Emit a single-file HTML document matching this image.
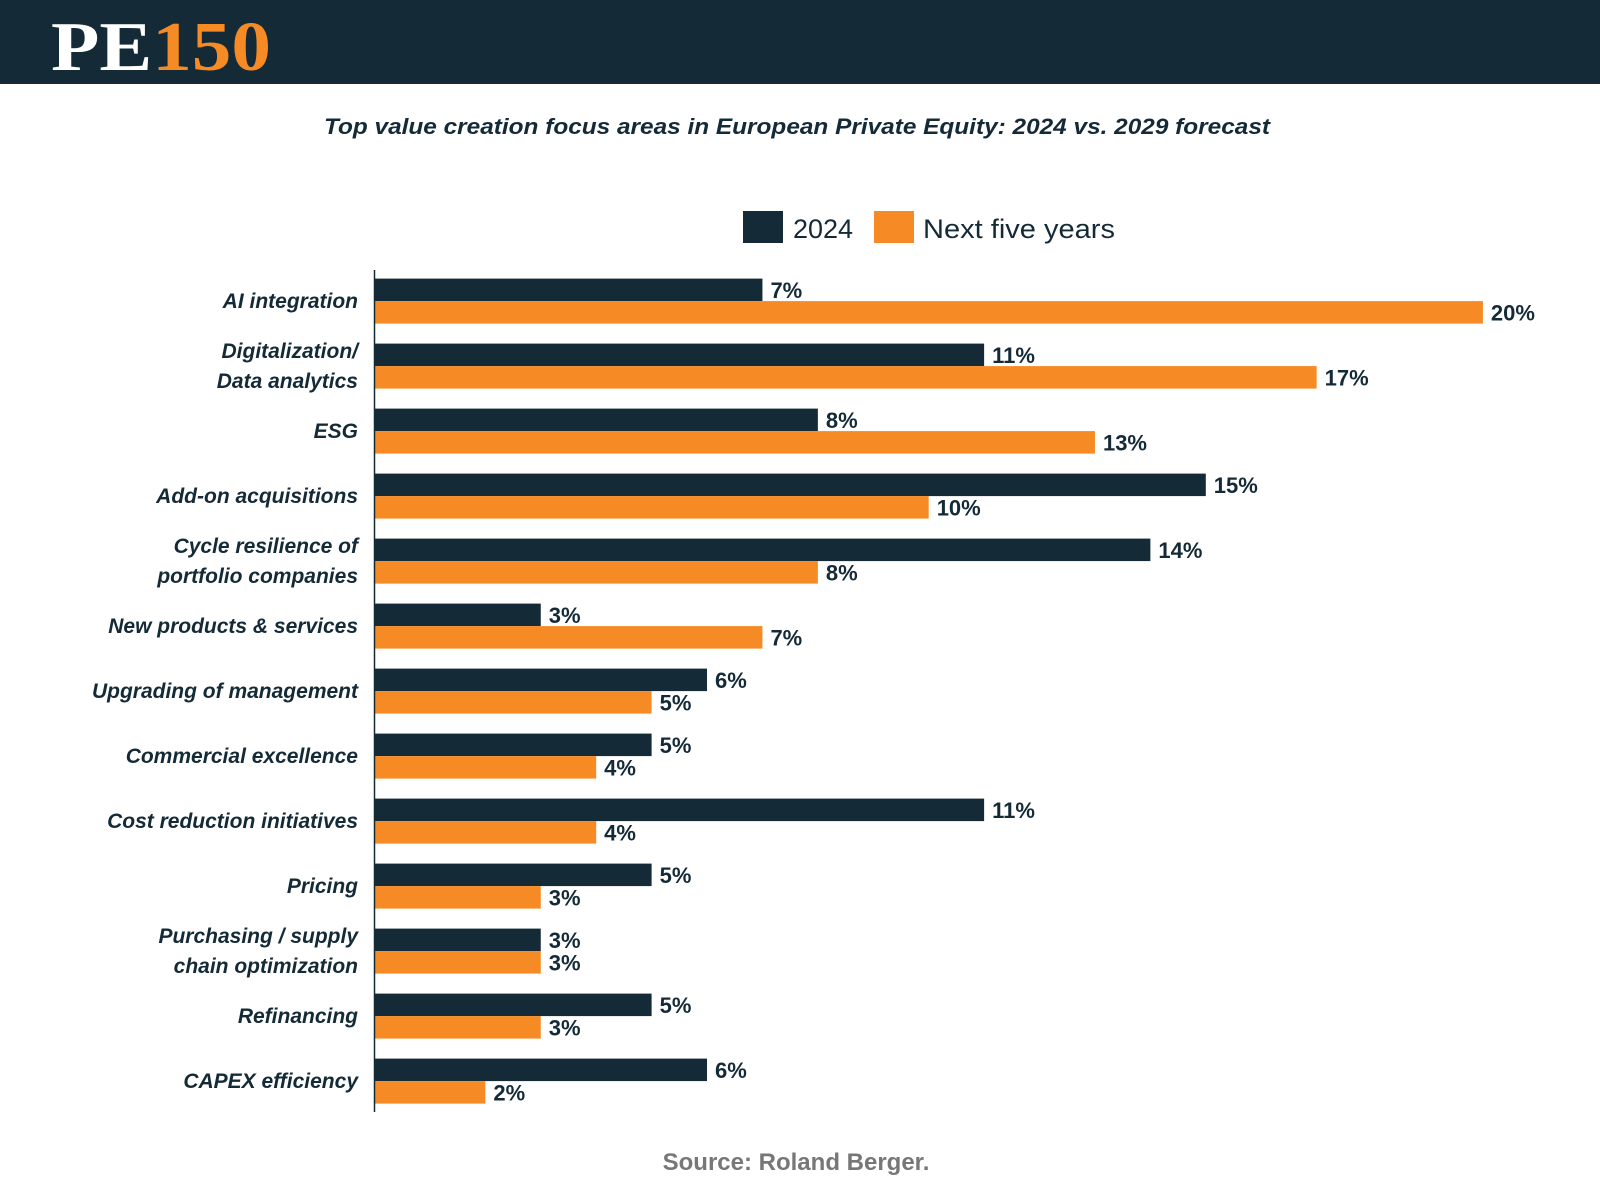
<!DOCTYPE html>
<html><head><meta charset="utf-8"><style>
html,body{margin:0;padding:0;background:#fff;}
svg{display:block;}
</style></head><body>
<svg id="chart" width="1600" height="1200" xmlns="http://www.w3.org/2000/svg">
<rect x="0" y="0" width="1600" height="84" fill="#142a37"/>
<text x="51" y="70" font-family="Liberation Serif, serif" font-weight="bold" font-size="70" textLength="220" lengthAdjust="spacingAndGlyphs"><tspan fill="#fff">PE</tspan><tspan fill="#f68b25">150</tspan></text>
<text x="797" y="134" text-anchor="middle" font-family="Liberation Sans, sans-serif" font-weight="bold" font-style="italic" font-size="22" fill="#142a37" textLength="946" lengthAdjust="spacingAndGlyphs">Top value creation focus areas in European Private Equity: 2024 vs. 2029 forecast</text>
<g>
<rect x="743" y="211" width="40" height="32" fill="#142a37"/>
<text x="793" y="238" font-family="Liberation Sans, sans-serif" font-size="27" fill="#142a37">2024</text>
<rect x="874" y="211" width="40" height="32" fill="#f68b25"/>
<text x="923" y="238" font-family="Liberation Sans, sans-serif" font-size="27" fill="#142a37" textLength="192" lengthAdjust="spacingAndGlyphs">Next five years</text>
</g>
<g id="plot"></g>
<line x1="374.5" y1="270" x2="374.5" y2="1112" stroke="#142a37" stroke-width="1.5"/>
<text x="796" y="1170" text-anchor="middle" font-family="Liberation Sans, sans-serif" font-weight="bold" font-size="24" fill="#777">Source: Roland Berger.</text>
</svg>
<script>
const categories = [["AI integration"],["Digitalization/","Data analytics"],["ESG"],["Add-on acquisitions"],["Cycle resilience of","portfolio companies"],["New products & services"],["Upgrading of management"],["Commercial excellence"],["Cost reduction initiatives"],["Pricing"],["Purchasing / supply","chain optimization"],["Refinancing"],["CAPEX efficiency"]];
const values2024 = [7,11,8,15,14,3,6,5,11,5,3,5,6];
const valuesNext = [20,17,13,10,8,7,5,4,4,3,3,3,2];
const NS="http://www.w3.org/2000/svg";
const g=document.getElementById('plot');
const x0=374.5, pxPer=55.42, top0=278.6, step=65.0, bh=22.5;
function xs(v){return x0+v*pxPer;}
function mk(t,a){const e=document.createElementNS(NS,t);for(const k in a)e.setAttribute(k,a[k]);g.appendChild(e);return e;}
categories.forEach((c,i)=>{
  const y=top0+i*step;
  const cy=y+bh;
  const lab=mk('text',{x:358,'text-anchor':'end','font-family':'Liberation Sans, sans-serif','font-weight':'bold','font-style':'italic','font-size':21,fill:'#142a37'});
  
  
  if(c.length===1){lab.setAttribute('y',cy+7);lab.textContent=c[0];}
  else{c.forEach((s,j)=>{const t=document.createElementNS(NS,'tspan');t.setAttribute('x',358);t.setAttribute('y',cy-8+j*30);t.textContent=s;lab.appendChild(t);});}
  [[values2024[i],'#142a37',y,'bar-2024'],[valuesNext[i],'#f68b25',y+bh,'bar-next']].forEach(([v,col,by,nm])=>{
    const r=mk('rect',{x:x0,y:by,width:xs(v)-x0,height:bh,fill:col});
    
    
    const t=mk('text',{x:xs(v)+8,y:by+bh/2+8,'font-family':'Liberation Sans, sans-serif','font-weight':'bold','font-size':22,fill:'#142a37'});
    
    
    t.textContent=v+'%';
  });
});
</script>
</body></html>
